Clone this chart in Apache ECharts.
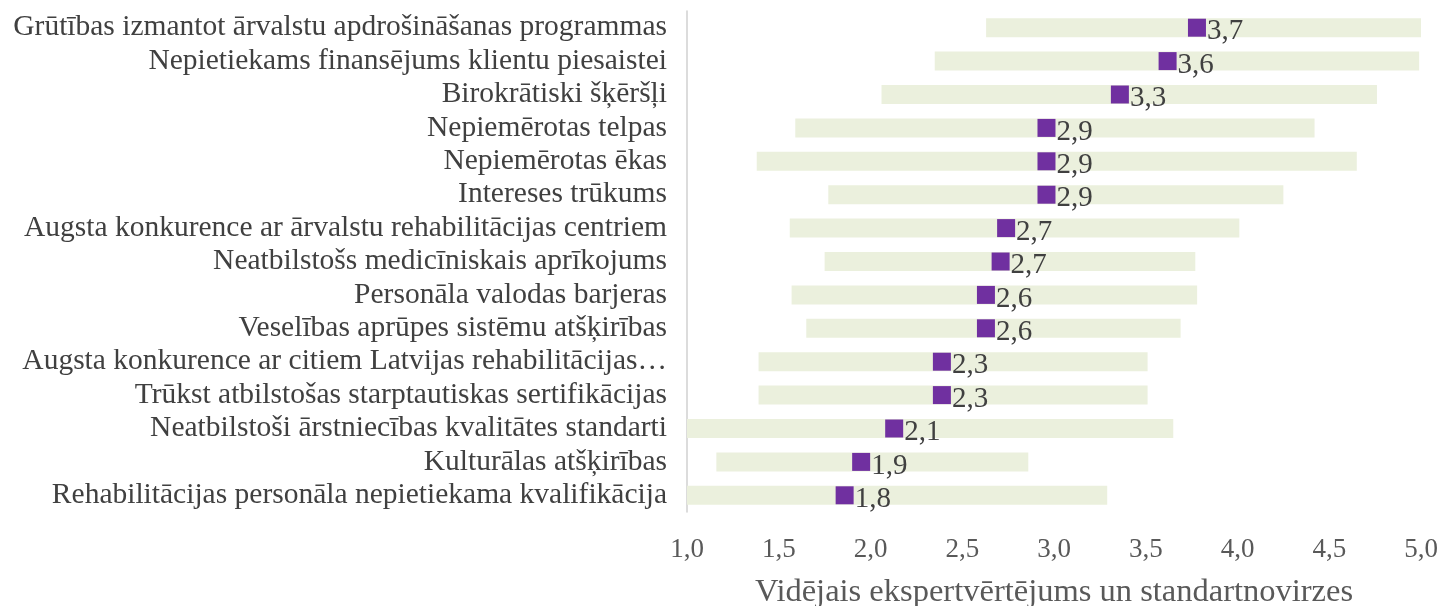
<!DOCTYPE html>
<html>
<head>
<meta charset="utf-8">
<script src="https://cdn.jsdelivr.net/npm/echarts@6/dist/echarts.min.js"></script>
<style>html,body{margin:0;padding:0;background:#fff}#c{width:1445px;height:606px}</style>
</head>
<body>
<div id="c"></div>
<script>
const categories = [
  "Grūtības izmantot ārvalstu apdrošināšanas programmas",
  "Nepietiekams finansējums klientu piesaistei",
  "Birokrātiski šķēršļi",
  "Nepiemērotas telpas",
  "Nepiemērotas ēkas",
  "Intereses trūkums",
  "Augsta konkurence ar ārvalstu rehabilitācijas centriem",
  "Neatbilstošs medicīniskais aprīkojums",
  "Personāla valodas barjeras",
  "Veselības aprūpes sistēmu atšķirības",
  "Augsta konkurence ar citiem Latvijas rehabilitācijas…",
  "Trūkst atbilstošas starptautiskas sertifikācijas",
  "Neatbilstoši ārstniecības kvalitātes standarti",
  "Kulturālas atšķirības",
  "Rehabilitācijas personāla nepietiekama kvalifikācija"
];
const means = [3.73, 3.57, 3.31, 2.91, 2.91, 2.91, 2.69, 2.66, 2.58, 2.58, 2.34, 2.34, 2.08, 1.90, 1.81];
const rangeLow = [2.63, 2.35, 2.06, 1.59, 1.38, 1.77, 1.56, 1.75, 1.57, 1.65, 1.39, 1.39, 1.00, 1.16, 1.00];
const rangeHigh = [5.00, 4.99, 4.76, 4.42, 4.65, 4.25, 4.01, 3.77, 3.78, 3.69, 3.51, 3.51, 3.65, 2.86, 3.29];
const xTicks = [1.0, 1.5, 2.0, 2.5, 3.0, 3.5, 4.0, 4.5, 5.0];
const axisTitle = "Vidējais ekspertvērtējums un standartnovirzes";

const fmt = v => Number(v).toFixed(1).replace('.', ',');
const FONT = '"Liberation Serif", "Times New Roman", serif';

const chart = echarts.init(document.getElementById('c'));
chart.setOption({
  animation: false,
  backgroundColor: '#ffffff',
  grid: { left: 687, right: 24, top: 11, bottom: 94, containLabel: false, outerBoundsMode: 'none' },
  xAxis: {
    type: 'value',
    min: xTicks[0],
    max: xTicks[xTicks.length - 1],
    interval: xTicks[1] - xTicks[0],
    axisLine: { show: false },
    axisTick: { show: false },
    splitLine: { show: false },
    axisLabel: { formatter: fmt, fontFamily: FONT, fontSize: 27, color: '#595959', margin: 24 },
    name: axisTitle,
    nameLocation: 'middle',
    nameGap: 64,
    nameTextStyle: { fontFamily: FONT, fontSize: 32.5, color: '#595959' }
  },
  yAxis: {
    type: 'category',
    data: categories,
    inverse: true,
    axisLine: { show: true, lineStyle: { color: '#d0d0d0', width: 1.5 } },
    axisTick: { show: false },
    splitLine: { show: false },
    axisLabel: { interval: 0, hideOverlap: false, fontFamily: FONT, fontSize: 29.5, color: '#404040', margin: 20 }
  },
  series: [
    {
      type: 'bar', stack: 'r', barWidth: 19, silent: true,
      itemStyle: { color: 'rgba(0,0,0,0)' },
      data: rangeLow
    },
    {
      type: 'bar', stack: 'r', barWidth: 19, silent: true,
      itemStyle: { color: '#ebf0dd' },
      data: rangeHigh.map((h, i) => +(h - rangeLow[i]).toFixed(3))
    },
    {
      type: 'scatter',
      symbol: 'rect',
      symbolSize: 18,
      symbolOffset: [9, 0],
      itemStyle: { color: '#7030a0', opacity: 1 },
      label: {
        show: true, position: 'right', distance: 0, offset: [1, 4],
        formatter: p => fmt(p.value[0]),
        fontFamily: FONT, fontSize: 29, color: '#404040'
      },
      data: means.map((m, i) => [m, i]),
      z: 5
    }
  ]
});
</script>
</body>
</html>
